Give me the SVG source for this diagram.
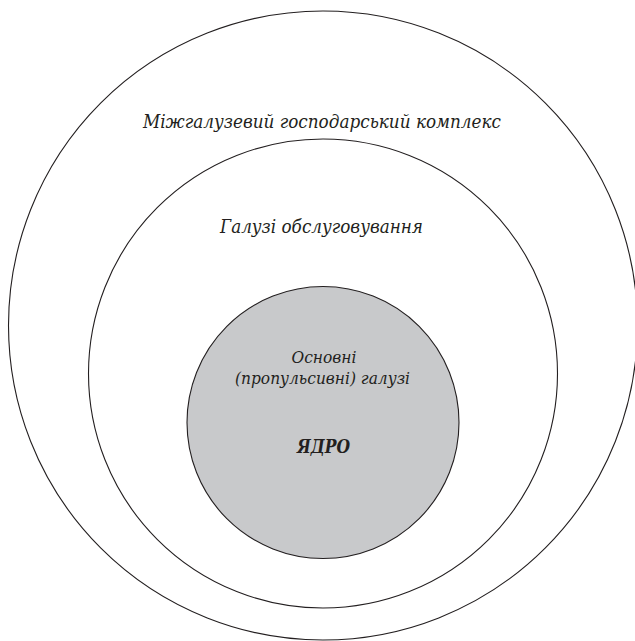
<svg xmlns="http://www.w3.org/2000/svg" width="635" height="641" viewBox="0 0 635 641">
<style>
.ring{fill:none;stroke:#231f20;stroke-width:1.1}
.core{fill:#c8c9cb;stroke:#231f20;stroke-width:1.1}
.lbl{font-family:'DejaVu Serif','Liberation Serif',serif;font-style:italic;fill:#231f20;text-anchor:middle}
</style>
<rect width="635" height="641" fill="#ffffff"/>
<g id="outer">
<circle class="ring" cx="323" cy="325.5" r="314.5"/>
<text class="lbl" x="322" y="128" font-size="18.3" textLength="358" lengthAdjust="spacingAndGlyphs">Міжгалузевий господарський комплекс</text>
</g>
<g id="middle">
<circle class="ring" cx="323" cy="373.5" r="234.5"/>
<text class="lbl" x="321.5" y="233" font-size="18.5" textLength="203" lengthAdjust="spacingAndGlyphs">Галузі обслуговування</text>
</g>
<g id="core">
<circle class="core" cx="323" cy="422.5" r="136"/>
<text class="lbl" x="324" y="363" font-size="16.6" textLength="65" lengthAdjust="spacingAndGlyphs">Основні</text>
<text class="lbl" x="322.5" y="384" font-size="16.6" textLength="175" lengthAdjust="spacingAndGlyphs">(пропульсивні) галузі</text>
<text class="lbl" x="323.5" y="453" font-size="18" font-weight="bold" textLength="53" lengthAdjust="spacingAndGlyphs">ЯДРО</text>
</g>
<g id="connectors"></g>
</svg>
